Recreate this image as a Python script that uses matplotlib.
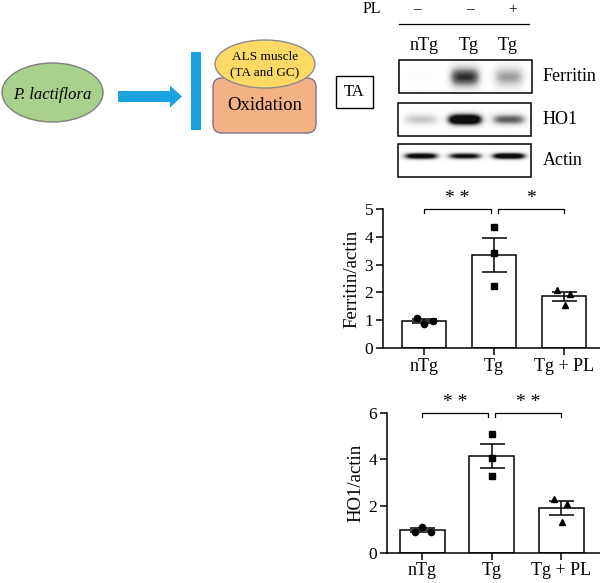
import numpy as np
import matplotlib
matplotlib.use("Agg")
import matplotlib.pyplot as plt
from matplotlib.patches import Ellipse, FancyBboxPatch, FancyArrow, Rectangle

plt.rcParams['font.family'] = ['Liberation Serif', 'DejaVu Serif']

# ---- data ----
groups = ['nTg', 'Tg', 'Tg + PL']
ferritin_pts = [[1.07, 0.86, 0.98], [4.36, 3.41, 2.23], [2.09, 1.94, 1.55]]
ho1_pts = [[0.88, 1.12, 0.88], [5.07, 4.06, 3.29], [2.29, 2.09, 1.33]]
ferritin_sig = [('**', 0, 1), ('*', 1, 2)]
ho1_sig = [('**', 0, 1), ('**', 1, 2)]

lane_labels = ['nTg', 'Tg', 'Tg']
pl_signs = ['–', '–', '+']
blot_names = ['Ferritin', 'HO1', 'Actin']
band_levels = {'Ferritin': [0.03, 0.9, 0.5],
               'HO1': [0.35, 1.6, 0.75],
               'Actin': [1.3, 1.1, 1.4]}

W, H = 600, 583
fig = plt.figure(figsize=(W / 100, H / 100), dpi=100)

ov = fig.add_axes([0, 0, 1, 1])
ov.set_xlim(0, W)
ov.set_ylim(H, 0)
ov.axis('off')

# ---- schematic ----
blue = '#1ba3e0'
ov.add_patch(Ellipse((52.5, 92.5), 101, 59, fc='#a9d18e', ec='#7f7f7f', lw=1))
ov.text(52, 95, 'P. lactiflora', style='italic', fontsize=12, ha='center', va='center')
ov.add_patch(FancyArrow(118, 96.5, 64, 0, width=11, head_width=22, head_length=12,
                        length_includes_head=True, color=blue, lw=0))
ov.add_patch(Rectangle((191, 52), 10, 78, color=blue, lw=0))
ov.add_patch(FancyBboxPatch((213, 78), 103, 55, boxstyle='round,pad=0,rounding_size=9',
                            fc='#f4b183', ec='#7f6f8f', lw=1))
ov.add_patch(Ellipse((265, 64), 100, 48, fc='#ffd966', ec='#8c8c8c', lw=1))
ov.text(265, 57, 'ALS muscle', fontsize=9.5, ha='center', va='center')
ov.text(265, 72, '(TA and GC)', fontsize=9.5, ha='center', va='center')
ov.text(265, 106, 'Oxidation', fontsize=13.5, ha='center', va='center')

# ---- western blot ----
lane_x = [421, 465, 509]
ov.text(372, 9, 'PL', fontsize=11.5, ha='center', va='center')
for x, s in zip([417, 470, 513], pl_signs):
    ov.text(x, 10, s, fontsize=11, ha='center', va='center')
ov.plot([399, 529], [24, 24], color='black', lw=0.9)
for x, s in zip([424, 469, 508], lane_labels):
    ov.text(x, 45, s, fontsize=13, ha='center', va='center')

ov.add_patch(Rectangle((336, 76), 37, 32, fill=False, ec='black', lw=1))
ov.text(354.5, 92, 'TA', fontsize=12, ha='center', va='center')

boxes = {'Ferritin': (399, 532, 60, 93, 77, 15, 10),
         'HO1': (398, 531, 103, 136, 119.5, 17, 5.5),
         'Actin': (398, 531, 144, 177, 156, 17, 3.2)}
for name in blot_names:
    x0, x1, y0, y1, yc, hx, hy = boxes[name]
    xs = np.linspace(x0, x1, 300)
    ys = np.linspace(y0, y1, 80)
    X, Y = np.meshgrid(xs, ys)
    img = np.zeros_like(X)
    for c, lv in zip(lane_x, band_levels[name]):
        img += lv * np.exp(-((X - c) / hx) ** 4) * np.exp(-((Y - yc) / hy) ** 2)
    ov.imshow(np.clip(img, 0, 1), cmap='Greys', vmin=0, vmax=1.05, aspect='auto',
              extent=(x0, x1, y1, y0), interpolation='bilinear', zorder=1)
    ov.add_patch(Rectangle((x0, y0), x1 - x0, y1 - y0, fill=False, ec='black', lw=1.1, zorder=2))
    ov.text(543, (y0 + y1) / 2, name, fontsize=13, ha='left', va='center')
ov.set_xlim(0, W)
ov.set_ylim(H, 0)


# ---- bar charts ----
def px_axes(left, top, right, bottom):
    return fig.add_axes([left / W, 1 - bottom / H, (right - left) / W, (bottom - top) / H])


markers = ['o', 's', '^']
jitter = [[-0.1, 0.0, 0.13], [0.0, 0.0, 0.0], [-0.1, 0.08, 0.01]]


def bar_panel(ax, pts, sig, ymax, yticks, ylabel, xlim, width):
    x = np.arange(len(groups))
    means = [np.mean(p) for p in pts]
    sems = [np.std(p, ddof=1) / np.sqrt(len(p)) for p in pts]
    ax.bar(x, means, width, color='white', edgecolor='black', lw=1.1, zorder=1)
    ax.errorbar(x, means, yerr=sems, fmt='none', ecolor='black', elinewidth=1.1,
                capsize=9, capthick=1.1, zorder=3)
    for i, p in enumerate(pts):
        ax.plot(x[i] + np.array(jitter[i]), p, markers[i], color='black', ms=4.5, zorder=4)
    ax.set_xlim(*xlim)
    ax.set_ylim(0, ymax)
    ax.set_yticks(yticks)
    ax.set_xticks(x)
    ax.set_xticklabels(groups, fontsize=13)
    ax.set_ylabel(ylabel, fontsize=13.5, labelpad=3)
    ax.spines['top'].set_visible(False)
    ax.spines['right'].set_visible(False)
    for s in ['left', 'bottom']:
        ax.spines[s].set_linewidth(1.1)
    ax.tick_params(axis='y', labelsize=12.5)
    ax.tick_params(width=1.1, length=5, pad=2)
    ax.patch.set_alpha(0)
    d = ymax * 0.03
    for label, a, b in sig:
        xa = x[a] + (0.0 if a == 0 else 0.05)
        xb = x[b] - (0.05 if b == 1 else 0.0)
        ax.plot([xa, xa, xb, xb], [ymax - d, ymax, ymax, ymax - d], color='black',
                lw=0.9, clip_on=False)
        ax.text((xa + xb) / 2, ymax + ymax * 0.015, ' '.join(label), fontsize=14,
                ha='center', va='bottom')


ax1 = px_axes(383, 209, 600, 348)
bar_panel(ax1, ferritin_pts, ferritin_sig, 5, [0, 1, 2, 3, 4, 5], 'Ferritin/actin',
          (-0.586, 2.51), 0.63)

ax2 = px_axes(387, 412.7, 600, 552.7)
bar_panel(ax2, ho1_pts, ho1_sig, 6, [0, 2, 4, 6], 'HO1/actin', (-0.51, 2.56), 0.65)

fig.savefig('out.png', dpi=100)
